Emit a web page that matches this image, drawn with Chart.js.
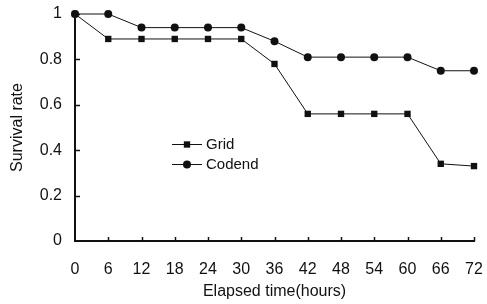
<!DOCTYPE html>
<html>
<head>
<meta charset="utf-8">
<title>Survival rate</title>
<script src="https://cdn.jsdelivr.net/npm/chart.js@4.4.1/dist/chart.umd.min.js"></script>
<style>
    html, body { margin: 0; padding: 0; background: #ffffff; }
    #wrap { position: relative; width: 487px; height: 304px; }
</style>
</head>
<body>
<div id="wrap"><canvas id="chart" width="487" height="304"></canvas></div>
<script>
    // Chart data
    const hours = ['0', '6', '12', '18', '24', '30', '36', '42', '48', '54', '60', '66', '72'];
    const gridValues = [1, 0.89, 0.89, 0.89, 0.89, 0.89, 0.78, 0.56, 0.56, 0.56, 0.56, 0.34, 0.33];
    const codendValues = [1, 1, 0.94, 0.94, 0.94, 0.94, 0.88, 0.81, 0.81, 0.81, 0.81, 0.75, 0.75];
    const yTicks = [0, 0.2, 0.4, 0.6, 0.8, 1];

    const FONT = "'Liberation Sans', Arial, sans-serif";
    const INK = '#111111';

    /**
     * Inward tick marks on both axes (the library only draws outward ones)
     */
    const inwardTicks = {
        id: 'inwardTicks',
        afterDatasetsDraw(chart) {
            const { ctx, chartArea, scales } = chart;
            ctx.save();
            ctx.strokeStyle = INK;
            ctx.lineWidth = 1.5;
            ctx.beginPath();
            scales.x.ticks.forEach((t, i) => {
                if (i === 0) return;
                const px = Math.round(scales.x.getPixelForTick(i)) + 0.5;
                ctx.moveTo(px, chartArea.bottom);
                ctx.lineTo(px, chartArea.bottom - 4);
            });
            yTicks.forEach(v => {
                if (v === 0) return;
                const py = Math.round(scales.y.getPixelForValue(v)) + 0.5;
                ctx.moveTo(chartArea.left, py);
                ctx.lineTo(chartArea.left + 5, py);
            });
            ctx.stroke();
            ctx.restore();
        }
    };

    /**
     * Legend drawn inside the plot: short line with marker, then label
     */
    const innerLegend = {
        id: 'innerLegend',
        afterDraw(chart) {
            const { ctx, chartArea } = chart;
            const x0 = chartArea.left + 97;
            const rows = [chartArea.top + 130, chartArea.top + 150];
            ctx.save();
            chart.data.datasets.forEach((ds, i) => {
                const y = rows[i];
                ctx.strokeStyle = INK;
                ctx.lineWidth = 1;
                ctx.beginPath();
                ctx.moveTo(x0, y + 0.5);
                ctx.lineTo(x0 + 30, y + 0.5);
                ctx.stroke();
                ctx.fillStyle = INK;
                Chart.helpers.drawPoint(ctx, {
                    pointStyle: ds.pointStyle,
                    radius: ds.pointRadius,
                    borderWidth: 0
                }, x0 + 15, y + 0.5);
                ctx.font = '15px ' + FONT;
                ctx.textBaseline = 'middle';
                ctx.fillText(ds.label, x0 + 34, y + 1);
            });
            ctx.restore();
        }
    };

    const ctx = document.getElementById('chart').getContext('2d');

    new Chart(ctx, {
        type: 'line',
        data: {
            labels: hours,
            datasets: [{
                label: 'Grid',
                data: gridValues,
                borderColor: INK,
                backgroundColor: INK,
                borderWidth: 1,
                pointStyle: 'rect',
                pointRadius: 4.5,
                pointBorderWidth: 0,
                tension: 0,
                clip: false
            }, {
                label: 'Codend',
                data: codendValues,
                borderColor: INK,
                backgroundColor: INK,
                borderWidth: 1,
                pointStyle: 'circle',
                pointRadius: 4,
                pointBorderWidth: 0,
                tension: 0,
                clip: false
            }]
        },
        options: {
            responsive: false,
            animation: false,
            devicePixelRatio: 1,
            layout: {
                padding: { top: 14, right: 13, left: 0, bottom: 0 }
            },
            plugins: {
                legend: { display: false },
                tooltip: { enabled: false }
            },
            scales: {
                x: {
                    offset: false,
                    afterFit: scale => {
                        scale.height = 63;
                        scale.paddingLeft = 0;
                        scale.paddingRight = 0;
                    },
                    grid: { display: false, drawTicks: false },
                    border: { display: true, color: INK, width: 2 },
                    ticks: {
                        color: INK,
                        padding: 19,
                        maxRotation: 0,
                        autoSkip: false,
                        font: { family: FONT, size: 16 }
                    },
                    title: {
                        display: true,
                        text: 'Elapsed time(hours)',
                        color: INK,
                        padding: { top: 0, bottom: 3 },
                        font: { family: FONT, size: 16 }
                    }
                },
                y: {
                    min: 0,
                    max: 1,
                    afterFit: scale => {
                        scale.width = 75;
                        scale.paddingTop = 0;
                        scale.paddingBottom = 0;
                    },
                    afterBuildTicks: scale => {
                        scale.ticks = yTicks.map(v => ({ value: v }));
                    },
                    grid: { display: false, drawTicks: false },
                    border: { display: true, color: INK, width: 2 },
                    ticks: {
                        color: INK,
                        padding: 13,
                        font: { family: FONT, size: 16 },
                        callback: value => String(Math.round(value * 10) / 10)
                    },
                    title: {
                        display: true,
                        text: 'Survival rate',
                        color: INK,
                        padding: { top: 8, bottom: 0 },
                        font: { family: FONT, size: 16 }
                    }
                }
            }
        },
        plugins: [inwardTicks, innerLegend]
    });
</script>
</body>
</html>
